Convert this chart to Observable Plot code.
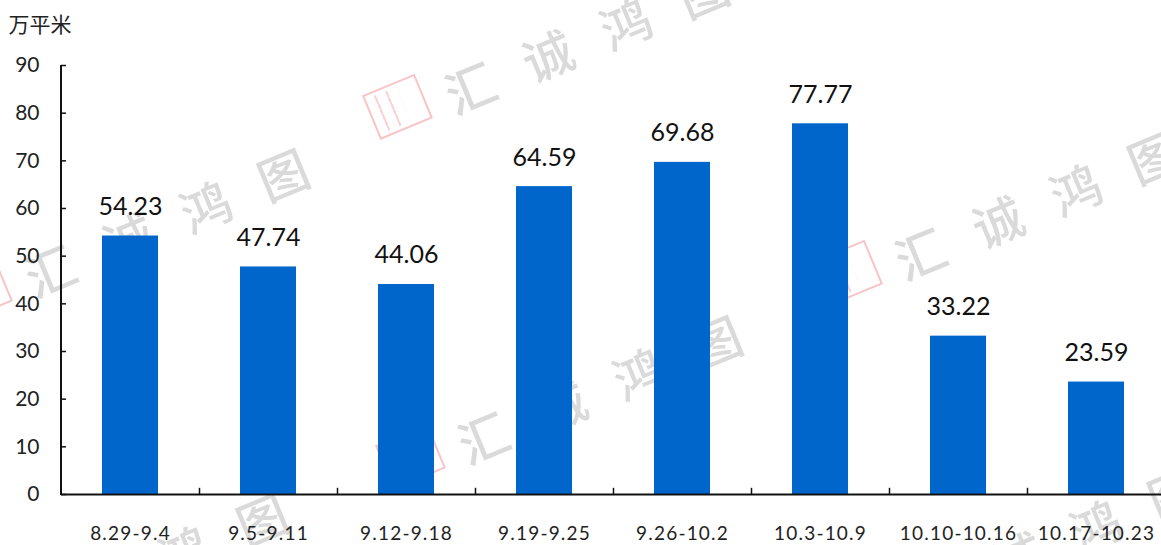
<!DOCTYPE html>
<html>
<head>
<meta charset="utf-8">
<script src="https://cdn.jsdelivr.net/npm/d3@7"></script>
<script src="https://cdn.jsdelivr.net/npm/@observablehq/plot@0.6"></script>
<style>
html,body{margin:0;padding:0;background:#fff;width:1161px;height:545px;overflow:hidden}
#stage{position:relative;width:1161px;height:545px;overflow:hidden}
#chart{position:absolute;left:0;top:0}
#chart svg{background:transparent!important;overflow:visible}
.wm{position:absolute;width:0;height:0;transform:rotate(-22.5deg);transform-origin:0 0}
.wm .seal{position:absolute;left:-28px;top:-24px;width:53px;height:44px;border:2px solid #f9c4c6;
  background:repeating-linear-gradient(90deg,transparent 0 6px,#fbd3d5 6px 8px,transparent 8px 12px) no-repeat 3px 3px/30px 38px}
.wm .txt{position:absolute;left:50px;top:-31px;white-space:nowrap;font:500 50px/78px "Noto Sans CJK SC";letter-spacing:34px;color:#dadada}
.a{left:397px;top:107px}.b{left:847px;top:273px}.c{left:-23px;top:290px}
.d{left:410px;top:457px}.e{left:-44px;top:635px}.f{left:867px;top:609px}
</style>
</head>
<body>
<div id="stage">
  <div class="wm a"><div class="seal"></div><div class="txt">汇诚鸿图</div></div>
  <div class="wm b"><div class="seal"></div><div class="txt">汇诚鸿图</div></div>
  <div class="wm c"><div class="seal"></div><div class="txt">汇诚鸿图</div></div>
  <div class="wm d"><div class="seal"></div><div class="txt">汇诚鸿图</div></div>
  <div class="wm e"><div class="seal"></div><div class="txt">汇诚鸿图</div></div>
  <div class="wm f"><div class="seal"></div><div class="txt">汇诚鸿图</div></div>
  <div id="chart"></div>
</div>
<script>
const weeks = ["8.29-9.4","9.5-9.11","9.12-9.18","9.19-9.25","9.26-10.2","10.3-10.9","10.10-10.16","10.17-10.23"];
const values = [54.23,47.74,44.06,64.59,69.68,77.77,33.22,23.59];
const yTicks = [0,10,20,30,40,50,60,70,80,90];
const unitLabel = "万平米";
const rows = weeks.map((w,i)=>({week:w,value:values[i]}));
const FONT = "Lato, 'Noto Sans CJK SC', sans-serif";

const plot = Plot.plot({
  width:1161, height:545,
  marginTop:65, marginBottom:51, marginLeft:61, marginRight:-4,
  style:{background:"transparent",fontFamily:FONT,color:"#111"},
  x:{domain:weeks,paddingInner:0.594,paddingOuter:0.297,label:null},
  y:{domain:[0,90],label:null},
  marks:[
    Plot.barY(rows,{x:"week",y:"value",fill:"#0066cc"}),
    Plot.text(rows,{x:"week",y:"value",text:d=>d.value.toFixed(2),dy:-29,fontSize:25,fill:"#111",lineAnchor:"middle"}),
    Plot.axisY({ticks:yTicks,tickSize:-5,tickPadding:27,fontSize:21,label:null,tickFormat:d=>d,stroke:"#111",strokeWidth:1.5,strokeOpacity:1,fill:"#222"}),
    Plot.axisX({tickSize:0,tickPadding:32,fontSize:19,label:null,fill:"#222"}),
    Plot.ruleX(weeks.slice(0,-1),{x:d=>d,y1:0,y2:1.3,dx:69,stroke:"#111",strokeWidth:1.5}),
    Plot.ruleY([0],{stroke:"#111",strokeWidth:2}),
    Plot.text([unitLabel],{frameAnchor:"top-left",dx:-53,dy:-40,fontSize:21,fill:"#222",textAnchor:"start",lineAnchor:"middle"})
  ]
});
document.getElementById("chart").append(plot);
// x tick labels run wider in the reference's geometric face
d3.select(plot).selectAll('[aria-label="x-axis tick label"] text').style("letter-spacing","1.2px");
// y axis line from the scale's own range
const ys = plot.scale("y"), xr = plot.scale("x");
d3.select(plot).append("line").attr("x1",xr.range[0]).attr("x2",xr.range[0]).attr("y1",ys.apply(0)+1).attr("y2",ys.apply(90)).attr("stroke","#111").attr("stroke-width",2);
</script>
</body>
</html>
